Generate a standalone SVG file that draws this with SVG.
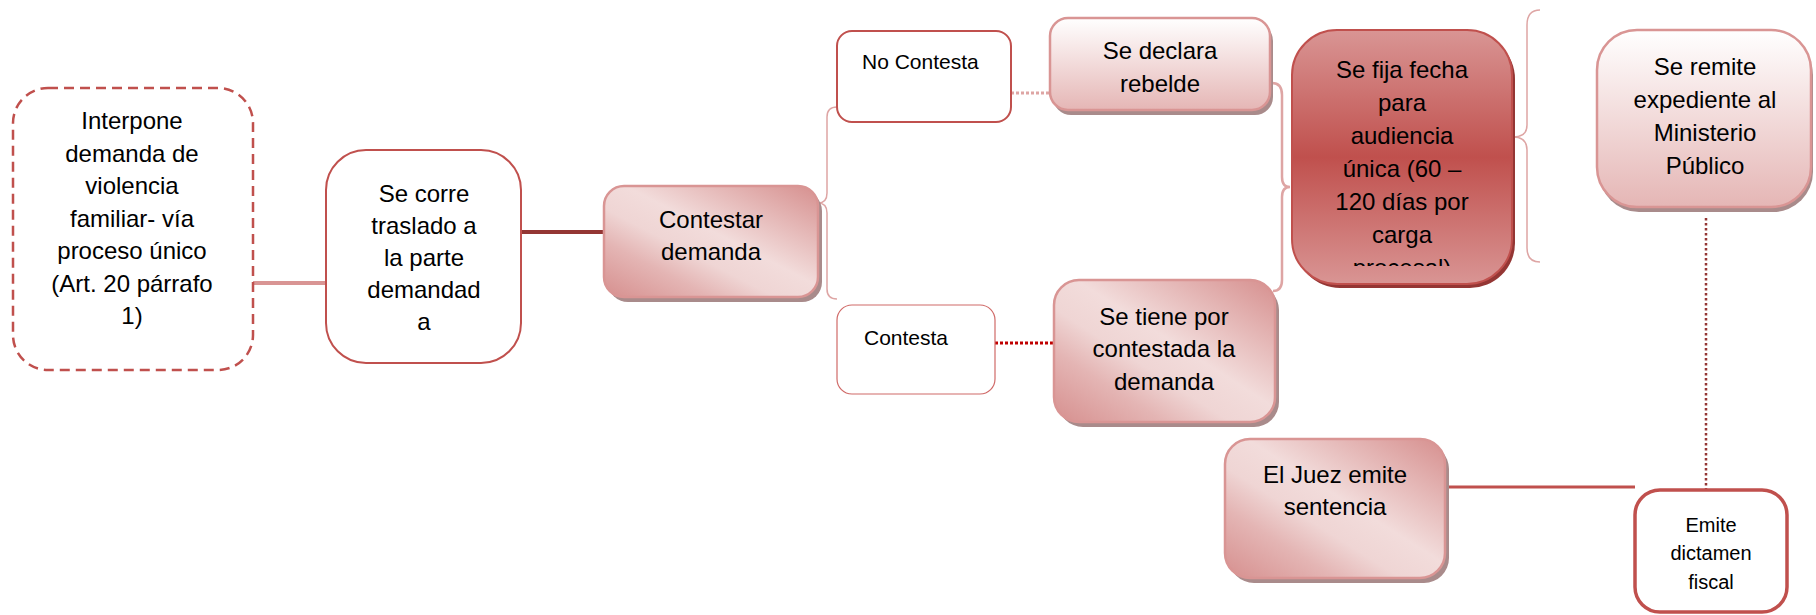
<svg xmlns="http://www.w3.org/2000/svg" width="1816" height="615" viewBox="0 0 1816 615">
<style>
text{font-family:"Liberation Sans",Arial,sans-serif;fill:#000;}
.t24{font-size:24px;text-anchor:middle;}
.t21{font-size:21px;}
.t20{font-size:20px;text-anchor:middle;}
.shadow{fill:#a98b8b;}
.diag{fill:url(#gDiag);stroke:#d99594;stroke-width:2.5;}
.vert{fill:url(#gVert);stroke:#d99594;stroke-width:2.5;}
.plain{fill:#fff;stroke:#c0504d;stroke-width:2;}
.brace{fill:none;stroke:#dea5a4;}
</style>
<defs>
<linearGradient id="gDiag" x1="1" y1="0" x2="0" y2="1">
<stop offset="0" stop-color="#d68f8e"/>
<stop offset="0.45" stop-color="#f2dcdb"/>
<stop offset="0.6" stop-color="#efd5d4"/>
<stop offset="0.75" stop-color="#e4b5b4"/>
<stop offset="1" stop-color="#d68f8e"/>
</linearGradient>
<linearGradient id="gVert" x1="0" y1="0" x2="0" y2="1">
<stop offset="0" stop-color="#ffffff"/>
<stop offset="1" stop-color="#e5b6b5"/>
</linearGradient>
<linearGradient id="gRed" x1="0" y1="0" x2="0" y2="1">
<stop offset="0" stop-color="#d99594"/>
<stop offset="0.5" stop-color="#c0504d"/>
<stop offset="1" stop-color="#d99594"/>
</linearGradient>
<clipPath id="clipFija"><rect x="1292" y="30" width="220" height="236"/></clipPath>
</defs>

<g id="connectors">
<line x1="253" y1="283" x2="326" y2="283" stroke="#d99594" stroke-width="4"/>
<line x1="521" y1="232" x2="604" y2="232" stroke="#943634" stroke-width="4"/>
<path class="brace" stroke-width="1.5" d="M837,107 Q827,107 827,117 L827,193 Q827,203 818,203 Q827,203 827,213 L827,289 Q827,299 837,299"/>
<line x1="1011" y1="93" x2="1050" y2="93" stroke="#dea5a4" stroke-width="3" stroke-dasharray="3 2"/>
<line x1="995" y1="343" x2="1054" y2="343" stroke="#c00000" stroke-width="3" stroke-dasharray="3 2"/>
<path class="brace" stroke-width="2.5" d="M1272,83 Q1282,83 1282,95 L1282,177 Q1282,187 1290,187 Q1282,187 1282,197 L1282,280 Q1282,291 1273,291"/>
<path class="brace" stroke-width="1.5" d="M1540,10 Q1527,10 1527,25 L1527,125 Q1527,137 1513,137 Q1527,137 1527,150 L1527,248 Q1527,262 1540,262"/>
<line x1="1445" y1="487" x2="1635" y2="487" stroke="#c0504d" stroke-width="3"/>
<line x1="1706" y1="218" x2="1706" y2="490" stroke="#943634" stroke-width="2.5" stroke-dasharray="2.5 2.5"/>
</g>

<g id="n1">
<rect x="13" y="88" width="240" height="282" rx="35" fill="#fff" stroke="#c0504d" stroke-width="2.5" stroke-dasharray="10 6"/>
<text class="t24"><tspan x="132" y="129">Interpone</tspan><tspan x="132" y="162">demanda de</tspan><tspan x="132" y="194">violencia</tspan><tspan x="132" y="227">familiar- vía</tspan><tspan x="132" y="259">proceso único</tspan><tspan x="132" y="292">(Art. 20 párrafo</tspan><tspan x="132" y="324">1)</tspan></text>
</g>

<g id="n2">
<rect class="plain" x="326" y="150" width="195" height="213" rx="40"/>
<text class="t24"><tspan x="424" y="202">Se corre</tspan><tspan x="424" y="234">traslado a</tspan><tspan x="424" y="266">la parte</tspan><tspan x="424" y="298">demandad</tspan><tspan x="424" y="330">a</tspan></text>
</g>

<g id="n3">
<rect class="shadow" x="608" y="191" width="214" height="111" rx="20"/>
<rect class="diag" x="604" y="186" width="214" height="111" rx="20"/>
<text class="t24"><tspan x="711" y="228">Contestar</tspan><tspan x="711" y="260">demanda</tspan></text>
</g>

<g id="n4">
<rect class="plain" x="837" y="31" width="174" height="91" rx="15" stroke-width="1.5"/>
<text class="t21" x="862" y="69">No Contesta</text>
</g>

<g id="n5">
<rect class="shadow" x="1053" y="23" width="220" height="92" rx="18"/>
<rect class="vert" x="1050" y="18" width="220" height="92" rx="18"/>
<text class="t24"><tspan x="1160" y="59">Se declara</tspan><tspan x="1160" y="92">rebelde</tspan></text>
</g>

<g id="n6">
<rect x="1295" y="34" width="220" height="254" rx="45" fill="#943634"/>
<rect x="1292" y="30" width="220" height="254" rx="45" fill="url(#gRed)" stroke="#c0504d" stroke-width="2"/>
<text class="t24" clip-path="url(#clipFija)"><tspan x="1402" y="78">Se fija fecha</tspan><tspan x="1402" y="111">para</tspan><tspan x="1402" y="144">audiencia</tspan><tspan x="1402" y="177">única (60 –</tspan><tspan x="1402" y="210">120 días por</tspan><tspan x="1402" y="243">carga</tspan><tspan x="1402" y="276">procesal)</tspan></text>
</g>

<g id="n7">
<rect class="shadow" x="1599" y="35" width="214" height="177" rx="40"/>
<rect class="vert" x="1597" y="30" width="214" height="177" rx="40"/>
<text class="t24"><tspan x="1705" y="75">Se remite</tspan><tspan x="1705" y="108">expediente al</tspan><tspan x="1705" y="141">Ministerio</tspan><tspan x="1705" y="174">Público</tspan></text>
</g>

<g id="n8">
<rect x="837" y="305" width="158" height="89" rx="15" fill="#fff" stroke="#d06a68" stroke-width="1.2"/>
<text class="t21" x="864" y="345" font-size="23">Contesta</text>
</g>

<g id="n9">
<rect class="shadow" x="1058" y="285" width="221" height="142" rx="25"/>
<rect class="diag" x="1054" y="280" width="221" height="142" rx="25"/>
<text class="t24"><tspan x="1164" y="325">Se tiene por</tspan><tspan x="1164" y="357">contestada la</tspan><tspan x="1164" y="390">demanda</tspan></text>
</g>

<g id="n10">
<rect class="shadow" x="1229" y="444" width="220" height="139" rx="25"/>
<rect class="diag" x="1225" y="439" width="220" height="139" rx="25"/>
<text class="t24"><tspan x="1335" y="483">El Juez emite</tspan><tspan x="1335" y="515">sentencia</tspan></text>
</g>

<g id="n11">
<rect x="1635" y="490" width="152" height="122" rx="25" fill="#fff" stroke="#c0504d" stroke-width="3.5"/>
<text class="t20"><tspan x="1711" y="532">Emite</tspan><tspan x="1711" y="560">dictamen</tspan><tspan x="1711" y="589">fiscal</tspan></text>
</g>
</svg>
